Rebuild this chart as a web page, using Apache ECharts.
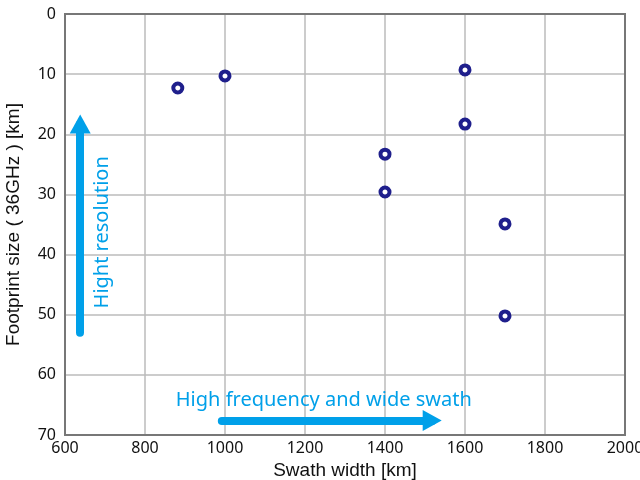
<!DOCTYPE html>
<html>
<head>
<meta charset="utf-8">
<script src="https://cdn.jsdelivr.net/npm/echarts@6/dist/echarts.min.js"></script>
<style>
  html, body { margin: 0; padding: 0; background: #fff; }
  #chart { width: 640px; height: 480px; }
</style>
</head>
<body>
<div id="chart"></div>
<script>
// swath width [km], footprint size [km]
const swath = [882, 1000, 1600, 1600, 1400, 1400, 1700, 1700];
const footprint = [12.3, 10.3, 9.3, 18.3, 23.3, 29.6, 34.9, 50.2];
const xTicks = [600, 800, 1000, 1200, 1400, 1600, 1800, 2000];
const yTicks = [0, 10, 20, 30, 40, 50, 60, 70];

// annotation arrows (data coordinates)
const resArrow = [[638, 53], [638, 18.3]];
const swathArrow = [[992, 67.6], [1518, 67.6]];

const font = "'Noto Sans', 'Open Sans', sans-serif";
const nameFont = "'Liberation Sans', Arial, sans-serif";
const blue = "#00a0e9";

const chart = echarts.init(document.getElementById("chart"));

const option = {
  animation: false,
  grid: { left: 65, right: 15, top: 14, bottom: 45, containLabel: false, outerBoundsMode: "none" },
  xAxis: {
    type: "value",
    min: xTicks[0],
    max: xTicks[xTicks.length - 1],
    interval: 200,
    name: "Swath width [km]",
    nameLocation: "middle",
    nameGap: 25,
    nameTextStyle: { fontSize: 19, color: "#111", fontFamily: nameFont },
    axisLine: { show: true, lineStyle: { color: "#777", width: 2 } },
    axisTick: { show: false },
    axisLabel: { fontSize: 16, color: "#111", fontFamily: font, margin: 5, formatter: v => String(v) },
    splitLine: { show: true, lineStyle: { color: "#bbb", width: 1.5 } }
  },
  yAxis: {
    type: "value",
    inverse: true,
    min: yTicks[0],
    max: yTicks[yTicks.length - 1],
    interval: 10,
    name: "Footprint size ( 36GHz ) [km]",
    nameLocation: "middle",
    nameGap: 42,
    nameTextStyle: { fontSize: 19, color: "#111", fontFamily: nameFont },
    axisLine: { show: true, lineStyle: { color: "#777", width: 2 } },
    axisTick: { show: false },
    axisLabel: { fontSize: 16, color: "#111", fontFamily: font, margin: 9, formatter: v => String(v) },
    splitLine: { show: true, lineStyle: { color: "#bbb", width: 1.5 } }
  },
  series: [
    {
      type: "scatter",
      data: swath.map((x, i) => [x, footprint[i]]),
      symbol: "circle",
      symbolSize: 9,
      itemStyle: { color: "#fff", borderColor: "#1f1f8c", borderWidth: 4, opacity: 1 },
      z: 5,
      markLine: {
        silent: true,
        symbol: ["none", "triangle"],
        symbolSize: [21, 19],
        label: { show: false },
        lineStyle: { color: blue, width: 8, type: "solid", cap: "round", opacity: 1 },
        data: [
          [{ coord: resArrow[0] }, { coord: resArrow[1] }],
          [{ coord: swathArrow[0] }, { coord: swathArrow[1] }]
        ]
      }
    }
  ]
};
chart.setOption(option);

// frame on top/right and annotation texts
const r = chart.getModel().getComponent("grid").coordinateSystem.getRect();
const pRes = chart.convertToPixel({ gridIndex: 0 }, [692, 36.3]);
const pSwath = chart.convertToPixel({ gridIndex: 0 }, [1247, 64.2]);
chart.setOption({
  graphic: [
    {
      type: "rect",
      shape: { x: r.x, y: r.y, width: r.width, height: r.height },
      style: { fill: "none", stroke: "#777", lineWidth: 2 },
      z: 10,
      silent: true
    },
    {
      type: "text",
      x: pRes[0], y: pRes[1],
      rotation: Math.PI / 2,
      style: { text: "Hight resolution", fill: blue, fontSize: 20, fontFamily: font, align: "center", verticalAlign: "middle" },
      z: 10
    },
    {
      type: "text",
      x: pSwath[0], y: pSwath[1],
      style: { text: "High frequency and wide swath", fill: blue, fontSize: 20, fontFamily: font, align: "center", verticalAlign: "middle" },
      z: 10
    }
  ]
});
</script>
</body>
</html>
